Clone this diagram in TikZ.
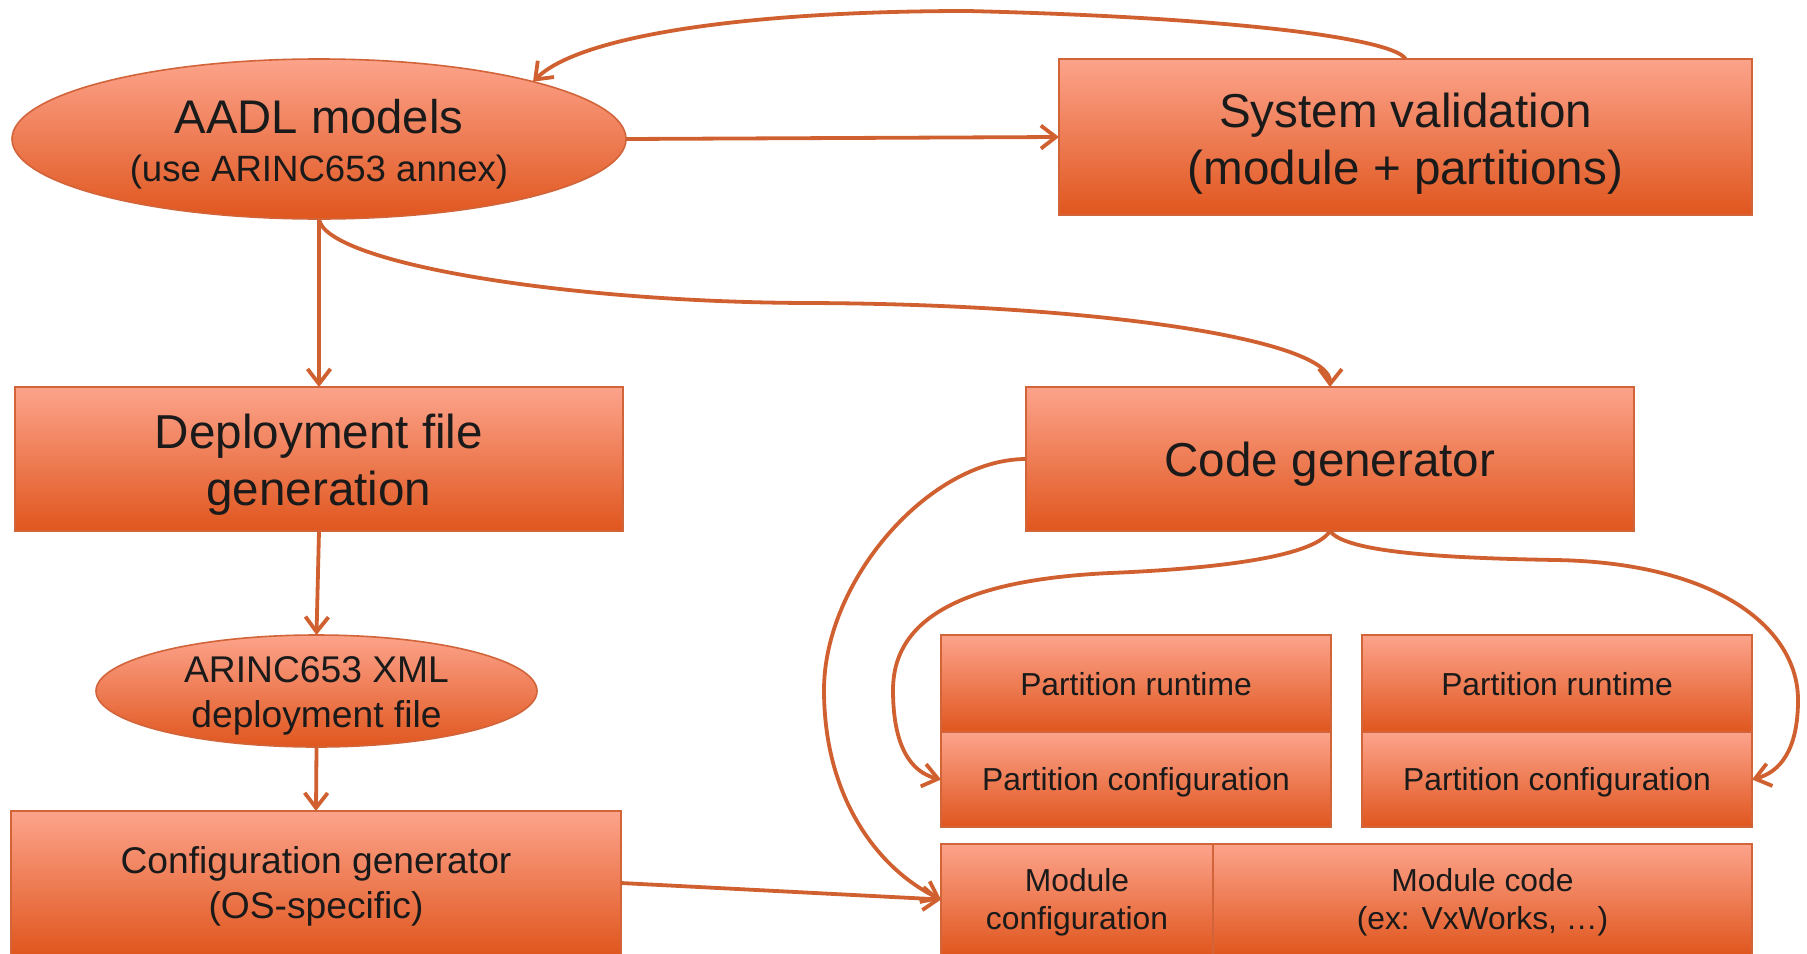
\documentclass[tikz,border=0pt]{standalone}
\usepackage{fontspec}
\setmainfont{Liberation Sans}
\usetikzlibrary{shapes.geometric,arrows.meta}

\definecolor{topc}{HTML}{FCA38B}
\definecolor{midc}{HTML}{F3906F}
\definecolor{botc}{HTML}{E0561E}
\definecolor{edgec}{HTML}{D2643A}
\definecolor{linkc}{HTML}{D0602F}
\definecolor{ink}{HTML}{1A1A1A}

\newcommand{\bigtxt}{\fontsize{23.8}{28.5}\selectfont}
\newcommand{\midtxt}{\fontsize{18.6}{22.5}\selectfont}
\newcommand{\smalltxt}{\fontsize{15.9}{19}\selectfont}
% taller first line: pushes the text block down by half the extra height
\newcommand{\lift}[1]{\rule{0pt}{\dimexpr\fontcharht\font`(+#1\relax}}

\tikzset{
  filled/.style={draw=edgec, line width=0.8pt, top color=topc, middle color=midc,
    bottom color=botc, inner sep=0pt, outer sep=0pt, align=center, text=ink},
  box/.style={filled, rectangle},
  oval/.style={filled, ellipse},
  link/.style={draw=linkc, line width=1.9pt,
    -{Straight Barb[length=7.5pt,width=11.5pt,line width=1.9pt]}},
}

\begin{document}
\begin{tikzpicture}[x=0.5pt, y=-0.5pt]
  \useasboundingbox (0,0) rectangle (1807,953);
  \clip (0,0) rectangle (1807,953);

  % nodes
  \node[oval, minimum width=307pt, minimum height=80pt,
        font=\fontsize{18.3}{23.9}\selectfont] (aadl) at (319,139)
    {{\fontsize{23.6}{23.9}\selectfont\lift{6.3pt}AADL models}\\(use ARINC653 annex)};
  \node[box, minimum width=346.5pt, minimum height=78pt, font=\bigtxt] (sv) at (1405.5,137)
    {\lift{7.5pt}System validation\\(module + partitions)};
  \node[box, minimum width=304pt, minimum height=72pt, font=\bigtxt] (dep) at (319,459)
    {\lift{7pt}Deployment file\\generation};
  \node[oval, inner ysep=-3pt, minimum width=220.5pt, minimum height=56pt, font=\midtxt]
    (xml) at (316.5,691)
    {\lift{4.6pt}ARINC653 XML\\deployment file};
  \node[box, minimum width=305pt, minimum height=72pt, font=\midtxt] (cfg) at (316,883)
    {\lift{4pt}Configuration generator\\(OS-specific)};
  \node[box, minimum width=304pt, minimum height=72pt, font=\bigtxt] (cg) at (1330,459)
    {\lift{6pt}Code generator};

  \node[box, minimum width=195pt, minimum height=48.5pt, font=\smalltxt] (pr1) at (1136,683.5)
    {\lift{1.5pt}Partition runtime};
  \node[box, minimum width=195pt, minimum height=47.5pt, font=\smalltxt] (pc1) at (1136,779.5)
    {\lift{3.5pt}Partition configuration};
  \node[box, minimum width=195pt, minimum height=48.5pt, font=\smalltxt] (pr2) at (1557,683.5)
    {\lift{1.5pt}Partition runtime};
  \node[box, minimum width=195pt, minimum height=47.5pt, font=\smalltxt] (pc2) at (1557,779.5)
    {\lift{3.5pt}Partition configuration};

  \node[box, minimum width=136pt, minimum height=55.5pt, font=\smalltxt] (mc) at (1077,899.5)
    {\lift{3.5pt}Module\\configuration};
  \node[box, minimum width=269.5pt, minimum height=55.5pt, font=\smalltxt] (mcode) at (1482.5,899.5)
    {\lift{3.5pt}Module code\\(ex: VxWorks, …)};

  % connectors
  \draw[link] (aadl.east) -- (sv.west);
  \draw[link] (sv.north) .. controls (1395,40) and (1250,18) .. (968,11)
                         .. controls (750,11) and (580,35) .. (aadl.15);
  \draw[link] (aadl.south) -- (dep.north);
  \draw[link] (aadl.south) .. controls (325,262) and (560,302) .. (807,303)
                           .. controls (1100,304) and (1331,340) .. (cg.north);
  \draw[link] (dep.south) -- (xml.north);
  \draw[link] (xml.south) -- (cfg.north);
  \draw[link] (cfg.east) -- (mc.west);
  \draw[link] (cg.west) .. controls (930,459) and (824,580) .. (824,690)
                        .. controls (824,800) and (880,870) .. (mc.west);
  \draw[link] (cg.south) .. controls (1315,555) and (1230,568) .. (1110,573)
                         .. controls (960,580) and (893,620) .. (893,690)
                         .. controls (893,745) and (910,772) .. (pc1.west);
  \draw[link] (cg.south) .. controls (1345,552) and (1440,558) .. (1556,560)
                         .. controls (1720,563) and (1798,630) .. (1798,700)
                         .. controls (1798,750) and (1780,772) .. (pc2.east);
\end{tikzpicture}
\end{document}
